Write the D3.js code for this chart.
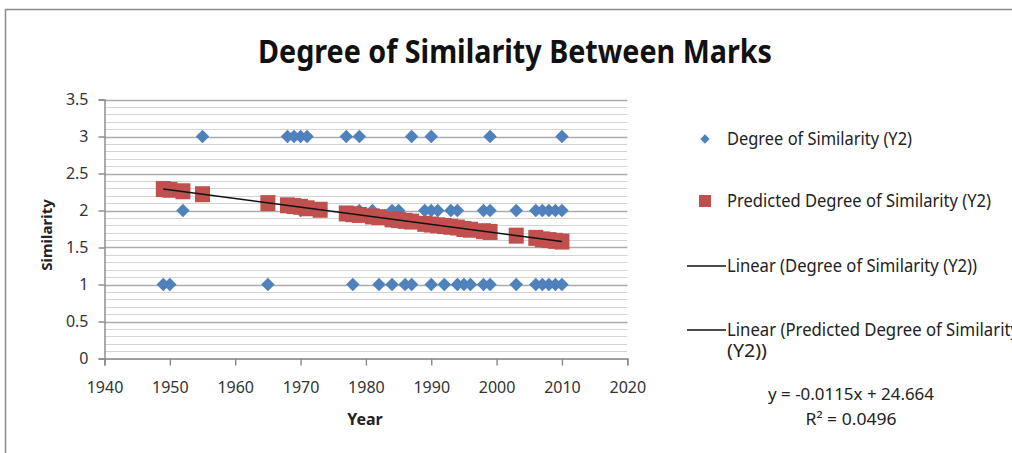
<!DOCTYPE html>
<html>
<head>
<meta charset="utf-8">
<script src="https://cdn.jsdelivr.net/npm/d3@7"></script>
<style>
  html, body { margin: 0; padding: 0; background: #fff; overflow: hidden; }
  svg { display: block; font-family: "Noto Sans", "Open Sans", sans-serif; }
</style>
</head>
<body>
<div id="chart"></div>
<script>
// observed similarity, grouped by level
const yearsAt3 = [1955, 1968, 1969, 1970, 1971, 1977, 1979, 1987, 1990, 1999, 2010];
const yearsAt2 = [1952, 1970, 1973, 1979, 1981, 1984, 1985, 1989, 1990, 1991, 1993, 1994, 1998, 1999, 2003, 2006, 2007, 2008, 2009, 2010];
const yearsAt1 = [1949, 1950, 1965, 1978, 1982, 1984, 1986, 1987, 1990, 1992, 1994, 1995, 1996, 1998, 1999, 2003, 2006, 2007, 2008, 2009, 2010];

// predicted similarity per year
const predYears = [1949, 1950, 1952, 1955, 1965, 1968, 1969, 1970, 1971, 1973, 1977, 1978, 1979, 1981, 1982, 1984, 1985, 1986, 1987, 1989, 1990, 1991, 1992, 1993, 1994, 1995, 1996, 1998, 1999, 2003, 2006, 2007, 2008, 2009, 2010];
const predValues = [2.29, 2.28, 2.26, 2.22, 2.10, 2.07, 2.06, 2.05, 2.03, 2.01, 1.96, 1.95, 1.94, 1.92, 1.91, 1.88, 1.87, 1.86, 1.85, 1.82, 1.81, 1.80, 1.79, 1.78, 1.77, 1.75, 1.74, 1.72, 1.71, 1.66, 1.63, 1.61, 1.60, 1.59, 1.58];

// linear trend ends
const trendYears = [1949, 2010];
const trendValues = [2.29, 1.58];

const xTicks = [1940, 1950, 1960, 1970, 1980, 1990, 2000, 2010, 2020];
const yTicks = [0, 0.5, 1, 1.5, 2, 2.5, 3, 3.5];
const legendNames = ["Degree of Similarity (Y2)", "Predicted Degree of Similarity (Y2)", "Linear (Degree of Similarity (Y2))", "Linear (Predicted Degree of Similarity"];

const width = 1012, height = 453;
const blue = "#4f81bd", red = "#c0504d";

const svg = d3.select("#chart").append("svg")
  .attr("width", width)
  .attr("height", height);

// outer frame
svg.append("rect")
  .attr("x", 5.5).attr("y", 9.5)
  .attr("width", width + 10).attr("height", height + 10)
  .attr("fill", "none").attr("stroke", "#8c8c8c").attr("stroke-width", 1.5);

const x = d3.scaleLinear().domain([1940, 2020]).range([104.5, 627.3]);
const y = d3.scaleLinear().domain([0, 3.5]).range([358.5, 99.5]);

// minor grid every 0.1
svg.append("g")
  .selectAll("line")
  .data(d3.range(0, 36).map(i => i / 10))
  .enter().append("line")
  .attr("x1", x(1940)).attr("x2", x(2020))
  .attr("y1", d => Math.round(y(d)) + 0.5).attr("y2", d => Math.round(y(d)) + 0.5)
  .attr("stroke", "#d4d4d4").attr("stroke-width", 1.2);

// major grid
svg.append("g")
  .selectAll("line")
  .data(yTicks.slice(1))
  .enter().append("line")
  .attr("x1", x(1940)).attr("x2", x(2020))
  .attr("y1", d => Math.round(y(d)) + 0.5).attr("y2", d => Math.round(y(d)) + 0.5)
  .attr("stroke", "#ababab").attr("stroke-width", 1.4);

// axes
const yAxis = svg.append("g")
  .attr("transform", `translate(${x(1940)},0)`)
  .call(d3.axisLeft(y).tickValues(yTicks).tickSize(6).tickPadding(10)
    .tickFormat(d => d));
const xAxis = svg.append("g")
  .attr("transform", `translate(0,${y(0)})`)
  .call(d3.axisBottom(x).tickValues(xTicks).tickSize(7).tickPadding(16)
    .tickFormat(d3.format("d")));

[yAxis, xAxis].forEach(g => {
  g.select(".domain").attr("stroke", "#888").attr("stroke-width", 1.4);
  g.selectAll(".tick line").attr("stroke", "#888").attr("stroke-width", 1.4);
  g.selectAll(".tick text")
    .attr("fill", "#333")
    .style("font-size", "16px")
    .style("font-family", "'Noto Sans', sans-serif");
});

// observed diamonds
const observed = []
  .concat(yearsAt1.map(yr => ({ yr, v: 1 })))
  .concat(yearsAt2.map(yr => ({ yr, v: 2 })))
  .concat(yearsAt3.map(yr => ({ yr, v: 3 })));

const diamond = d3.symbol().type(d3.symbolDiamond2).size(115);
svg.append("g")
  .selectAll("path")
  .data(observed)
  .enter().append("path")
  .attr("d", diamond)
  .attr("transform", d => `translate(${x(d.yr)},${y(d.v)})`)
  .attr("fill", blue);

// predicted squares
svg.append("g")
  .selectAll("rect")
  .data(predYears.map((yr, i) => ({ yr, v: predValues[i] })))
  .enter().append("rect")
  .attr("x", d => x(d.yr) - 7.5)
  .attr("y", d => y(d.v) - 8)
  .attr("width", 15).attr("height", 16)
  .attr("fill", red);

// trend line
svg.append("path")
  .datum(trendYears.map((yr, i) => [yr, trendValues[i]]))
  .attr("d", d3.line().x(d => x(d[0])).y(d => y(d[1])))
  .attr("stroke", "#111").attr("stroke-width", 1.6).attr("fill", "none");

// title
svg.append("text")
  .attr("x", 515).attr("y", 63)
  .attr("text-anchor", "middle")
  .attr("textLength", 514).attr("lengthAdjust", "spacingAndGlyphs")
  .style("font-size", "33px").style("font-weight", 700).attr("fill", "#111")
  .text("Degree of Similarity Between Marks");

// axis titles
svg.append("text")
  .attr("x", 365).attr("y", 425)
  .attr("text-anchor", "middle")
  .style("font-size", "16px").style("font-weight", 700).attr("fill", "#222")
  .text("Year");

svg.append("text")
  .attr("transform", "translate(52,235) rotate(-90)")
  .attr("text-anchor", "middle")
  .style("font-size", "15px").style("font-weight", 700).attr("fill", "#222")
  .text("Similarity");

// legend
const lg = svg.append("g");
const legendY = [139, 201, 266, 330];
const legendW = [185, 264, 250, 292];
lg.append("path").attr("d", d3.symbol().type(d3.symbolDiamond2).size(55))
  .attr("transform", `translate(705,${legendY[0]})`).attr("fill", blue);
lg.append("rect").attr("x", 699).attr("y", legendY[1] - 6)
  .attr("width", 12).attr("height", 12).attr("fill", red);
[2, 3].forEach(i => {
  lg.append("line").attr("x1", 687).attr("x2", 726)
    .attr("y1", legendY[i]).attr("y2", legendY[i])
    .attr("stroke", "#111").attr("stroke-width", 1.3);
});
legendNames.forEach((name, i) => {
  lg.append("text")
    .attr("x", 727).attr("y", legendY[i]).attr("dy", "0.35em")
    .attr("textLength", legendW[i]).attr("lengthAdjust", "spacingAndGlyphs")
    .style("font-size", "18px").attr("fill", "#222")
    .text(name);
});
lg.append("text")
  .attr("x", 727).attr("y", 351).attr("dy", "0.35em")
  .attr("textLength", 40).attr("lengthAdjust", "spacingAndGlyphs")
  .style("font-size", "18px").attr("fill", "#222")
  .text("(Y2))");

// equation
svg.append("text")
  .attr("x", 851).attr("y", 394).attr("dy", "0.35em")
  .attr("text-anchor", "middle")
  .attr("textLength", 166).attr("lengthAdjust", "spacingAndGlyphs")
  .style("font-size", "17px").attr("fill", "#222")
  .text("y = -0.0115x + 24.664");
svg.append("text")
  .attr("x", 851).attr("y", 419).attr("dy", "0.35em")
  .attr("text-anchor", "middle")
  .attr("textLength", 91).attr("lengthAdjust", "spacingAndGlyphs")
  .style("font-size", "17px").attr("fill", "#222")
  .text("R² = 0.0496");
</script>
</body>
</html>
